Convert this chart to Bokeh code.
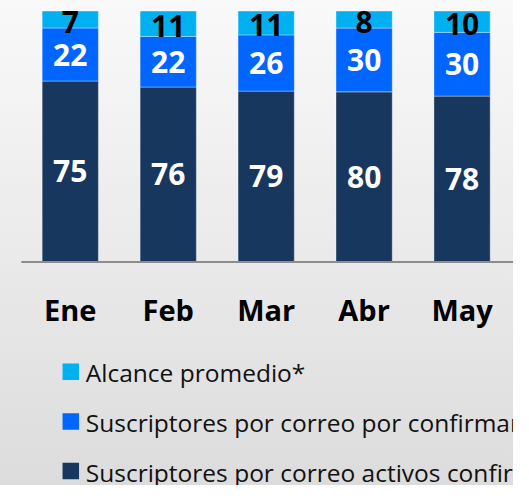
from bokeh.plotting import figure
from bokeh.models import ColumnDataSource, Range1d, InlineStyleSheet
from bokeh.core.properties import value
from bokeh.embed import file_html
from bokeh.resources import INLINE

months = ["Ene", "Feb", "Mar", "Abr", "May"]
activos = [75, 76, 79, 80, 78]
por_confirmar = [22, 22, 26, 30, 30]
alcance = [7, 11, 11, 8, 10]
series_names = [
    "Suscriptores por correo activos confirmados",
    "Suscriptores por correo por confirmar",
    "Alcance promedio*",
]
colors = ["#17375e", "#0066ff", "#00b0f0"]

totals = [a + b + c for a, b, c in zip(activos, por_confirmar, alcance)]
act_p = [a / t * 100 for a, t in zip(activos, totals)]
conf_p = [b / t * 100 for b, t in zip(por_confirmar, totals)]
alc_p = [c / t * 100 for c, t in zip(alcance, totals)]

src = ColumnDataSource(dict(
    x=list(range(len(months))),
    month=months,
    zero=[0] * len(months),
    act=act_p, conf=conf_p, alc=alc_p,
    act_mid=[a / 2 for a in act_p],
    conf_mid=[a + b / 2 for a, b in zip(act_p, conf_p)],
    alc_mid=[a + b + c / 2 for a, b, c in zip(act_p, conf_p, alc_p)],
    act_lbl=[str(v) for v in activos],
    conf_lbl=[str(v) for v in por_confirmar],
    alc_lbl=[str(v) for v in alcance],
))

# ---- layout (screen pixels) ----
W, H = 513, 485
band_left = 20.8        # left edge of first category band
step = 97.95            # px per category
base_y = 261.4          # px of 0 %
top_y = 10.6            # px of 100 %
ppu = (base_y - top_y) / 100.0

p = figure(width=W, height=H, output_backend="svg", toolbar_location=None,
           x_range=Range1d(-0.5 - band_left / step, -0.5 + (W - band_left) / step),
           y_range=Range1d(-(H - base_y) / ppu, 100 + top_y / ppu),
           x_axis_location=None, y_axis_location=None,
           min_border_left=0, min_border_right=0, min_border_top=0, min_border_bottom=0)
p.border_fill_color = None
p.background_fill_color = None
p.outline_line_color = None
p.stylesheets = [InlineStyleSheet(css=":host { background: linear-gradient(to bottom, #f9f9f9 0%, #ececec 45%, #dcdcdc 100%); }")]
p.xgrid.visible = False
p.ygrid.visible = False

rs = p.vbar_stack(["act", "conf", "alc"], x="x", width=0.574, color=colors,
                  line_color="#ffffff", line_alpha=0.35, line_width=1, source=src)

# category axis baseline
p.segment(x0=-0.5, y0=0, x1=p.x_range.end, y1=0, line_color="#8c8c8c", line_width=2)

font = value("Open Sans")
lab = dict(source=src, text_font=font, text_font_style="bold", text_font_size="30px",
           text_align="center", text_baseline="middle")
p.text(x="x", y="act_mid", text="act_lbl", text_color="white", **lab)
p.text(x="x", y="conf_mid", text="conf_lbl", text_color="white", **lab)
p.text(x="x", y="alc_mid", text="alc_lbl", text_color="black", y_offset=2, **lab)

# month tick labels
p.text(x="x", y="zero", text="month", source=src, text_color="black", text_font=font,
       text_font_style="bold", text_font_size="29px", text_align="center",
       text_baseline="middle", y_offset=48)

# legend (top to bottom: Alcance, por confirmar, activos)
leg_order = [2, 1, 0]
leg_rows_px = [371.3, 421.1, 470.5]
leg_x = -0.5 + (70.3 - band_left) / step
leg_src = ColumnDataSource(dict(
    x=[leg_x] * 3,
    y=[(base_y - r) / ppu for r in leg_rows_px],
    name=[series_names[i] for i in leg_order],
    color=[colors[i] for i in leg_order],
))
p.scatter(x="x", y="y", marker="square", size=16.5, fill_color="color",
          line_color=None, source=leg_src)
p.text(x="x", y="y", text="name", source=leg_src, text_font=font,
       text_font_size="24.5px", text_color="#111111", text_align="left",
       text_baseline="middle", x_offset=15, y_offset=1)

open("out.html", "w").write(file_html(p, INLINE))
